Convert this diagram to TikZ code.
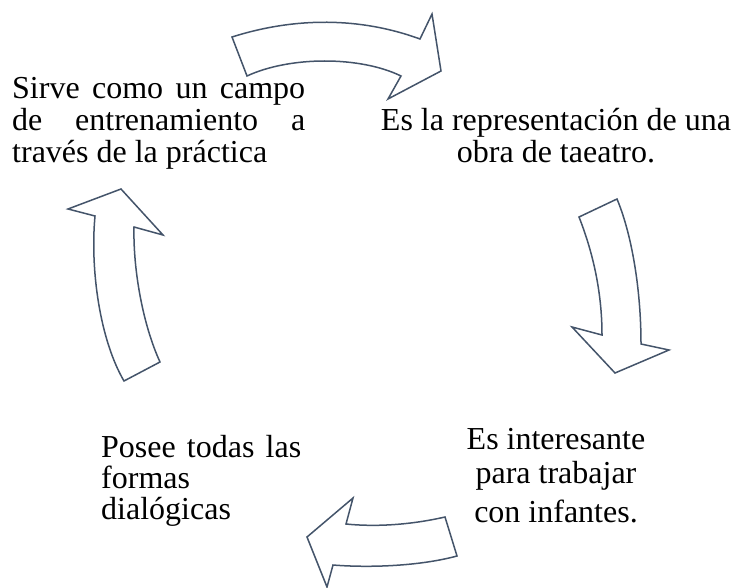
\documentclass[tikz,border=0pt]{standalone}
\usepackage{fontspec}
\setmainfont{Liberation Serif}
\usetikzlibrary{positioning}
\definecolor{slate}{HTML}{44546A}

\begin{document}
\begin{tikzpicture}[
    x=1pt, y=-1pt,
    % Styles
    cyclearrow/.style={ draw=slate, line width=1.5pt, fill=white, line join=miter },
    stage/.style={ inner sep=0pt, anchor=base, font=\fontsize{32}{#1}\selectfont }, ]
  \useasboundingbox (0,0) rectangle (735,588);

  % 1) Curved block arrows of the cycle
  \draw[cyclearrow] % top, to the right
  (232,37) .. controls (295,17) and (360,17) .. (420,39)
  -- (432,14) -- (441,71) -- (388,99) -- (401,76)
  .. controls (360,56) and (290,56) .. (247,76) -- cycle;

  \draw[cyclearrow] % right, downwards
  (579,217) -- (617,199)
  .. controls (632,235) and (641,290) .. (641,344)
  -- (669,350) -- (615,373) -- (572,327) -- (602,335)
  .. controls (602,290) and (592,250) .. cycle;

  \draw[cyclearrow] % bottom, to the left
  (445,517) .. controls (410,525) and (375,527) .. (346,524)
  -- (353,498) -- (307,537) -- (327,587) -- (333,565)
  .. controls (370,568) and (420,566) .. (457,556) -- cycle;

  \draw[cyclearrow] % left, upwards
  (124,381) -- (160,362)
  .. controls (143,325) and (133,270) .. (134,227)
  -- (163,235) -- (121,189) -- (68,209) -- (95,216)
  .. controls (90,270) and (100,340) .. cycle;

  % 2) Texts of the four stages
  \node[stage=32, anchor=base west, text width=293pt, align=justify] (campo) at (12,99)
  {Sirve como un campo\linebreak de entrenamiento a\linebreak través de la práctica};

  \node[stage=32, text width=380pt, align=flush center] (obra) at (556,131)
  {Es la representación de una\\ obra de taeatro.};

  \node[stage=34, text width=220pt, align=flush center] (infantes) at (556,449)
  {Es interesante\\ para trabajar\\[5pt] con infantes.};

  \node[stage=31, anchor=base west, text width=200pt, align=justify] (formas) at (101,457)
  {Posee todas las\linebreak formas\\ dialógicas};
\end{tikzpicture}
\end{document}
